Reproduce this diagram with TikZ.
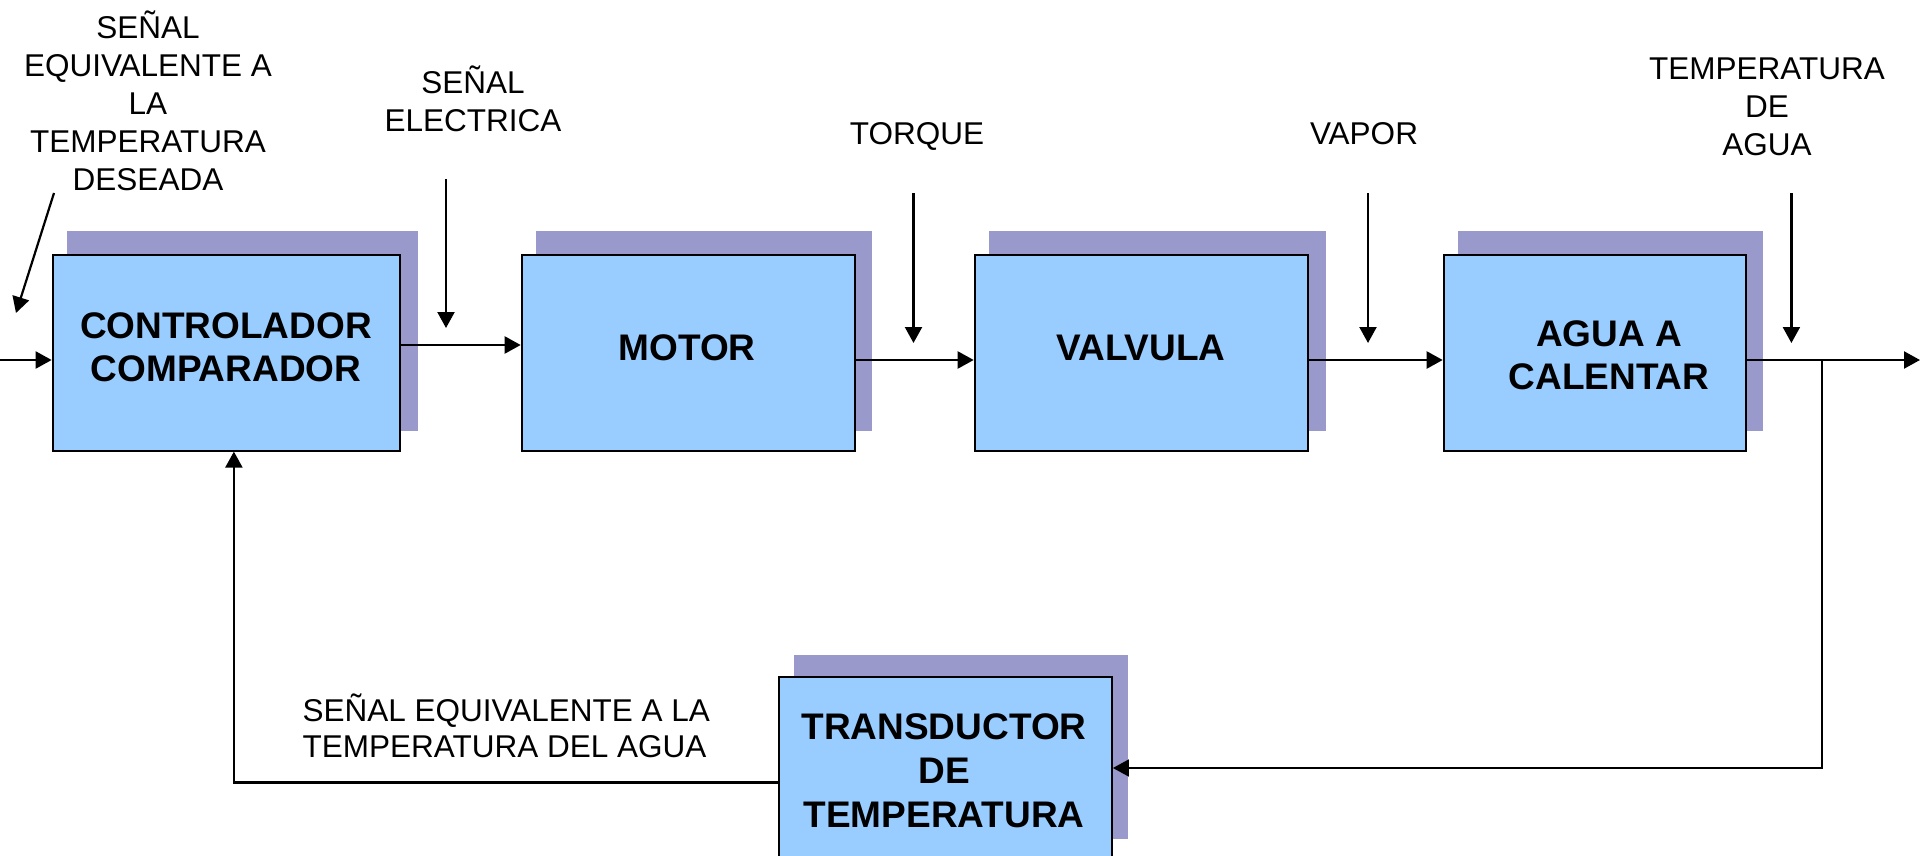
\documentclass[tikz,border=0pt]{standalone}
\usepackage{fontspec}
\setmainfont{Liberation Sans}
\usetikzlibrary{arrows.meta}
\definecolor{boxblue}{HTML}{99CCFF}
\definecolor{shadowc}{HTML}{9999CC}
\begin{document}
\begin{tikzpicture}[x=1pt,y=-1pt,
  blk/.style={draw=black, line width=2pt, fill=boxblue, minimum width=333pt, minimum height=196pt, inner sep=0pt},
  blktext/.style={font=\fontsize{37}{43}\selectfont\bfseries, align=center, inner sep=0pt},
  lbl/.style={font=\fontsize{31.5}{38}\selectfont, align=center, inner sep=0pt},
  arr/.style={line width=2.2pt, -{Triangle[length=16pt,width=17pt]}},
  thinarr/.style={line width=1.8pt, -{Triangle[length=16pt,width=17pt]}},
  shd/.style={fill=shadowc}]
\clip (0,0) rectangle (1920,856);
% shadows
\fill[shd] (67,231) rectangle (417.5,431);
\fill[shd] (536,231) rectangle (872,431);
\fill[shd] (989.4,231) rectangle (1326,431);
\fill[shd] (1458,231) rectangle (1763,431);
\fill[shd] (793.5,655) rectangle (1127.8,839);
% blocks
\node[blk, minimum width=347.7pt] (ctrl) at (226.5,352.6) {};
\node[blktext] (ctrlT) at (226,347) {CONTROLADOR\\COMPARADOR};
\node[blk] (motor) at (688.2,352.6) {};
\node[blktext] (motorT) at (687,348) {MOTOR};
\node[blk] (valv) at (1141.2,352.6) {};
\node[blktext] (valvT) at (1141,348) {VALVULA};
\node[blk, minimum width=302.4pt] (agua) at (1594.9,352.6) {};
\node[blktext] (aguaT) at (1609,355) {AGUA A\\CALENTAR};
\node[blk] (trans) at (945.4,775) {};
\node[blktext, font=\fontsize{37}{44}\selectfont\bfseries] (transT) at (944,771) {TRANSDUCTOR\\DE\\TEMPERATURA};
% labels
\node[lbl] (lblIn) at (148,101) {SEÑAL\\EQUIVALENTE A\\LA\\TEMPERATURA\\DESEADA};
\node[lbl] (lblSE) at (473,99) {SEÑAL\\ELECTRICA};
\node[lbl] (lblTq) at (917,136) {TORQUE};
\node[lbl] (lblVp) at (1364,133.5) {VAPOR};
\node[lbl] (lblTA) at (1767,107) {TEMPERATURA\\DE\\AGUA};
\node[lbl, align=left, anchor=west, font=\fontsize{31.5}{36.5}\selectfont] (lblFb) at (302.5,726) {SEÑAL EQUIVALENTE A LA\\TEMPERATURA DEL AGUA};
% disturbance / input arrows
\coordinate (inS) at (54,193); \coordinate (inE) at (16,313);
\draw[arr] (inS) -- (inE);
\coordinate (seS) at (446,179); \coordinate (seE) at (446,328);
\draw[arr] (seS) -- (seE);
\coordinate (tqS) at (913.5,193); \coordinate (tqE) at (913.5,343);
\draw[arr] (tqS) -- (tqE);
\coordinate (vpS) at (1368,193); \coordinate (vpE) at (1368,343);
\draw[arr] (vpS) -- (vpE);
\coordinate (taS) at (1791.4,193); \coordinate (taE) at (1791.4,343);
\draw[arr] (taS) -- (taE);
% main chain
\coordinate (inL) at (0,360);
\draw[arr] (inL) -- (ctrl.west |- inL);
\draw[arr] (ctrl.east |- 0,345) -- (motor.west |- 0,345);
\draw[arr] (motor.east |- 0,360) -- (valv.west |- 0,360);
\draw[arr] (valv.east |- 0,360) -- (agua.west |- 0,360);
\coordinate (out) at (1920,360);
\draw[arr] (agua.east |- out) -- (out);
% feedback
\coordinate (br) at (1822,360);
\draw[thinarr] (br) |- (trans.east |- 0,768);
\draw[arr] (trans.west |- 0,782.5) -| (233.9,0 |- ctrl.south);
\end{tikzpicture}
\end{document}
